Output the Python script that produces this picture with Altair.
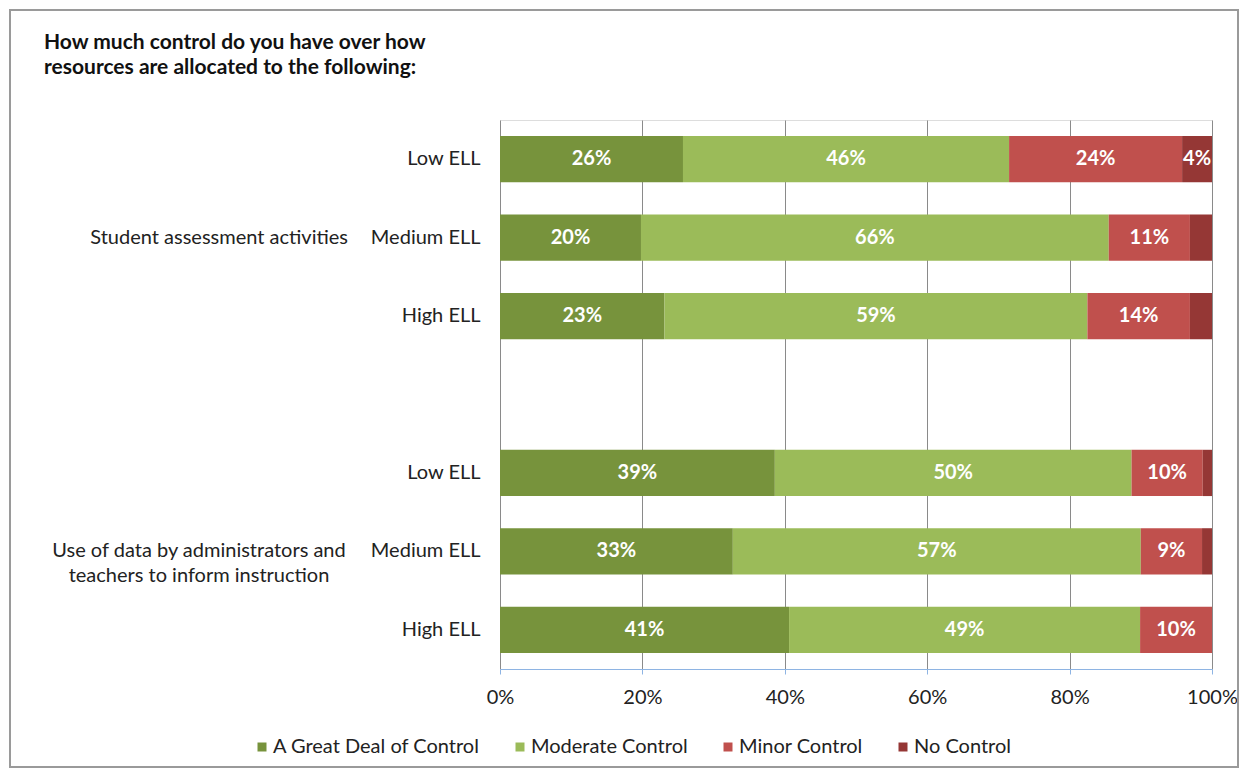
import altair as alt
import pandas as pd

groups = ["Student assessment activities",
          "Use of data by administrators and teachers to inform instruction"]
group_labels = ["Student assessment activities",
                "Use of data by administrators and\nteachers to inform instruction"]
levels = ["Low ELL", "Medium ELL", "High ELL"]
categories = ["A Great Deal of Control", "Moderate Control", "Minor Control", "No Control"]
colors = ["#77933c", "#9bbb59", "#c0504d", "#953735"]

# values in percent, rows: group1 Low/Medium/High, group2 Low/Medium/High
great = [25.7, 19.8, 23.1, 38.6, 32.7, 40.6]
moderate = [45.8, 65.7, 59.4, 50.1, 57.3, 49.3]
minor = [24.3, 11.4, 14.4, 10.0, 8.6, 10.1]
no_control = [4.2, 3.1, 3.1, 1.3, 1.4, 0.0]

title_text = "How much control do you have over how\nresources are allocated to the following:"

row_keys = []
for g in groups:
    for lv in levels:
        row_keys.append(f"{g}|{lv}")
domain_rows = row_keys[:3] + ["gap"] + row_keys[3:]

recs = []
series = [great, moderate, minor, no_control]
for i, key in enumerate(row_keys):
    for j, cat in enumerate(categories):
        recs.append({"row": key, "cat": cat, "order": j, "value": series[j][i]})
df = pd.DataFrame(recs)

FONT = "Lato"
FS = 20

yscale = alt.Scale(domain=domain_rows, paddingInner=0.41, paddingOuter=0.205)

base = alt.Chart(df).transform_stack(
    stack="value", groupby=["row"], as_=["x0", "x1"],
    sort=[alt.SortField("order", order="ascending")]
).transform_calculate(mid="(datum.x0 + datum.x1) / 2")

bars = base.mark_bar().encode(
    x=alt.X("x0:Q", scale=alt.Scale(domain=[0, 100], nice=False),
            axis=alt.Axis(values=[0, 20, 40, 60, 80, 100],
                          labelExpr="datum.value + '%'", labelFlush=False,
                          title=None, grid=True, gridColor="#8a8a8a",
                          gridWidth=1, domainColor="#8eb4e3", domainWidth=1,
                          tickColor="#8eb4e3", tickSize=5, labelPadding=13,
                          labelFontSize=FS, labelColor="#222222", labelFont=FONT)),
    x2="x1:Q",
    y=alt.Y("row:N", scale=yscale,
            axis=alt.Axis(title=None, domain=False, ticks=False,
                          labelExpr="split(datum.value, '|')[1] || ''",
                          labelPadding=20, labelFontSize=FS, labelColor="#222222",
                          labelFont=FONT)),
    color=alt.Color("cat:N", scale=alt.Scale(domain=categories, range=colors),
                    legend=alt.Legend(orient="none", legendX=-248, legendY=617,
                                      direction="horizontal", title=None,
                                      symbolType="square", symbolSize=81,
                                      symbolStrokeWidth=0, labelLimit=0,
                                      labelFontSize=FS, labelFont=FONT,
                                      labelColor="#222222", columnPadding=30,
                                      labelOffset=1)),
)

labels = base.transform_filter("datum.value >= 3.5").transform_calculate(
    lbl="format(datum.value / 100, '.0%')"
).mark_text(color="white", fontWeight="bold", fontSize=FS, font=FONT,
            baseline="middle", align="center").encode(
    x=alt.X("mid:Q"),
    y=alt.Y("row:N", scale=yscale),
    text="lbl:N",
)

g1 = pd.DataFrame({"row": [row_keys[1]], "label": [group_labels[0]]})
g2 = pd.DataFrame({"row": [row_keys[4]], "label": [group_labels[1]]})
group_text1 = alt.Chart(g1).mark_text(
    align="right", baseline="middle", fontSize=FS, font=FONT, color="#222222"
).encode(x=alt.value(-152), y=alt.Y("row:N", scale=yscale), text="label:N")
group_text2 = alt.Chart(g2).mark_text(
    align="center", baseline="middle", fontSize=FS, font=FONT,
    color="#222222", lineBreak="\n", lineHeight=25
).encode(x=alt.value(-301), y=alt.Y("row:N", scale=yscale), text="label:N")

tdf = pd.DataFrame({"t": [title_text]})
title = alt.Chart(tdf).mark_text(
    align="left", baseline="alphabetic", fontSize=21, fontWeight="bold",
    font=FONT, color="#111111", lineBreak="\n", lineHeight=25
).encode(x=alt.value(-456), y=alt.value(-71), text="t:N")

fdf = pd.DataFrame({"f": [1]})
frame = alt.Chart(fdf).mark_rect(fillOpacity=0, stroke="#9a9a9a", strokeWidth=2).encode(
    x=alt.value(-490), x2=alt.value(738), y=alt.value(-110), y2=alt.value(647)
)

chart = alt.layer(frame, bars, labels, group_text1, group_text2, title).properties(
    width=712, height=549,
    autosize=alt.AutoSizeParams(type="none"),
    padding={"left": 492, "top": 112, "right": 28, "bottom": 100},
).configure_view(strokeWidth=0).configure(background="white")

chart.save("out.html", embed_options={"renderer": "svg", "actions": False})
